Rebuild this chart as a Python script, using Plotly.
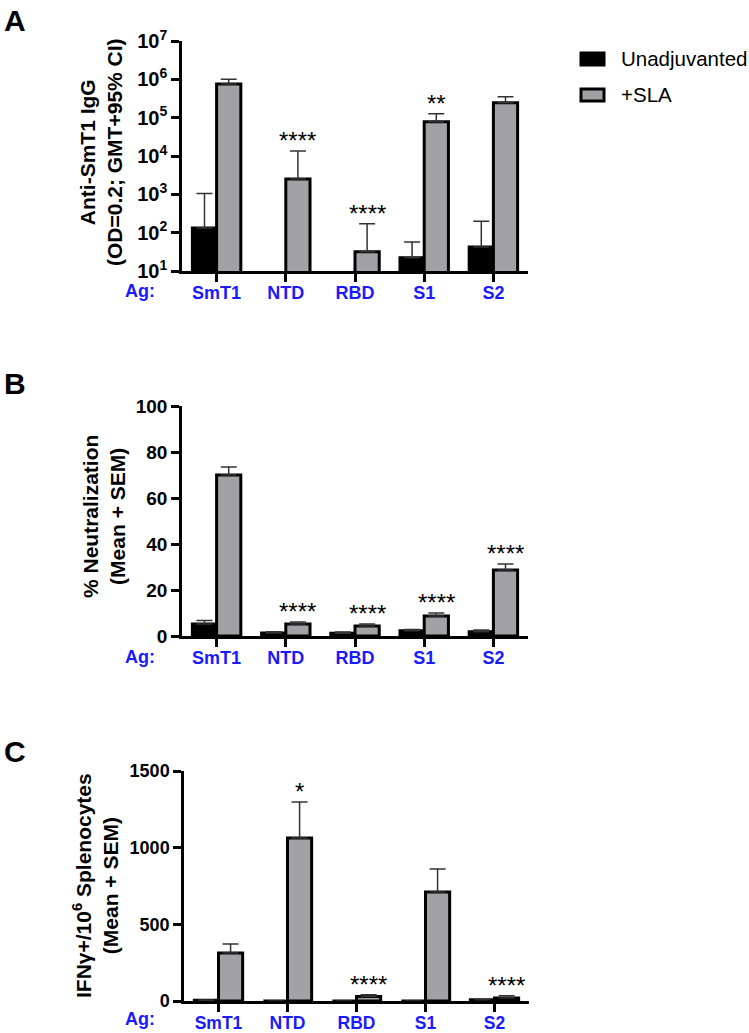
import math
import plotly.graph_objects as go

categories = ["SmT1", "NTD", "RBD", "S1", "S2"]

# Panel A: Anti-SmT1 IgG (GMT and upper 95% CI)
a_unadj = [132, None, None, 22, 42]
a_unadj_hi = [1050, None, None, 57, 200]
a_sla = [7.6e5, 2500, 32, 7.8e4, 2.45e5]
a_sla_hi = [1.0e6, 1.35e4, 170, 1.27e5, 3.5e5]
a_stars = ["", "****", "****", "**", ""]

# Panel B: % Neutralization (mean + SEM)
b_unadj = [5.2, 1.3, 1.2, 2.3, 1.8]
b_unadj_err = [1.5, 0.5, 0.5, 0.5, 0.8]
b_sla = [70, 5.2, 4.3, 8.7, 28.7]
b_sla_err = [3.5, 0.9, 0.9, 1.3, 2.6]
b_stars = ["", "****", "****", "****", "****"]

# Panel C: IFNg+/10^6 splenocytes (mean + SEM)
c_unadj = [5, 0, 0, 0, 8]
c_unadj_err = [2, 0, 0, 0, 2]
c_sla = [313, 1063, 30, 711, 20]
c_sla_err = [59, 235, 10, 150, 15]
c_stars = ["", "*", "****", "", "****"]

y_ticks_a = [1e1, 1e2, 1e3, 1e4, 1e5, 1e6, 1e7]
y_ticks_a_text = ["10<sup>%d</sup>" % i for i in range(1, 8)]
y_ticks_b = [0, 20, 40, 60, 80, 100]
y_ticks_c = [0, 500, 1000, 1500]

FONT = "Arial, Liberation Sans, sans-serif"
BLUE = "#1a1aff"
GRAY = "#a2a2a6"
W, H = 749, 1033

xs = list(range(len(categories)))
fig = go.Figure()

def px_x(p):
    return p / W

def px_y(p):
    return 1 - p / H

panels = [
    # (xaxis, yaxis, x0px, x1px, ytop_px, ybot_px, ytickfont, xtickfont)
    ("x", "y", 182, 528, 41, 271, 20, 18),
    ("x2", "y2", 182, 528, 406, 636, 19, 18),
    ("x3", "y3", 184, 529, 771, 1001, 18, 17.5),
]

def add_pair(unadj, unadj_err, sla, sla_err, xa, ya):
    fig.add_trace(go.Bar(
        x=xs, y=unadj, name="Unadjuvanted", xaxis=xa, yaxis=ya,
        marker=dict(color="black", line=dict(color="black", width=3)),
        error_y=dict(type="data", array=unadj_err, symmetric=False,
                     arrayminus=[0] * len(xs), color="#333333", thickness=1.5, width=8),
        showlegend=False, offsetgroup="u"))
    fig.add_trace(go.Bar(
        x=xs, y=sla, name="+SLA", xaxis=xa, yaxis=ya,
        marker=dict(color=GRAY, line=dict(color="black", width=3)),
        error_y=dict(type="data", array=sla_err, symmetric=False,
                     arrayminus=[0] * len(xs), color="#333333", thickness=1.5, width=8),
        showlegend=False, offsetgroup="s"))

a_unadj_err = [None if v is None else h - v for v, h in zip(a_unadj, a_unadj_hi)]
a_sla_err = [h - v for v, h in zip(a_sla, a_sla_hi)]
add_pair(a_unadj, a_unadj_err, a_sla, a_sla_err, "x", "y")
add_pair(b_unadj, b_unadj_err, b_sla, b_sla_err, "x2", "y2")
add_pair(c_unadj, c_unadj_err, c_sla, c_sla_err, "x3", "y3")

axis_common = dict(showline=True, linecolor="black", linewidth=2.5, ticks="outside",
                   ticklen=8, tickwidth=2.5, tickcolor="black", showgrid=False,
                   zeroline=False, automargin=False)

layout = dict(
    width=W, height=H, margin=dict(l=0, r=0, t=0, b=0, pad=0, autoexpand=False),
    paper_bgcolor="white", plot_bgcolor="white",
    barmode="group", bargap=0.3, bargroupgap=0,
    font=dict(family=FONT, color="black"),
    showlegend=False,
)
for i, (xa, ya, x0, x1, yt, yb, yfs, xfs) in enumerate(panels):
    xk = "xaxis" if xa == "x" else "xaxis" + xa[1:]
    yk = "yaxis" if ya == "y" else "yaxis" + ya[1:]
    layout[xk] = dict(axis_common, domain=[px_x(x0), px_x(x1)], range=[-0.5, 4.5],
                      tickvals=xs, ticktext=categories, anchor=ya, ticklabelstandoff=-4,
                      tickfont=dict(size=xfs, color=BLUE, family=FONT, weight="bold"))
    ydict = dict(axis_common, domain=[px_y(yb), px_y(yt)], anchor=xa,
                 tickfont=dict(size=yfs, color="black", family=FONT, weight="bold"))
    if i == 0:
        ydict.update(type="log", range=[1, 7], tickvals=y_ticks_a, ticktext=y_ticks_a_text)
    elif i == 1:
        ydict.update(range=[0, 100], tickvals=y_ticks_b)
    else:
        ydict.update(range=[0, 1500], tickvals=y_ticks_c)
    layout[yk] = ydict
fig.update_layout(**layout)

ann = []
shapes = []
# panel letters
for letter, ypx in [("A", 20), ("B", 384), ("C", 751)]:
    ann.append(dict(text="<b>%s</b>" % letter, x=px_x(2), y=px_y(ypx), xref="paper", yref="paper",
                    xanchor="left", yanchor="middle", showarrow=False,
                    font=dict(size=30, family=FONT, color="black")))
# Ag: labels
for ypx in [291, 657, 1019]:
    ann.append(dict(text="<b>Ag:</b>", x=px_x(140), y=px_y(ypx), xref="paper", yref="paper",
                    xanchor="center", yanchor="middle", showarrow=False,
                    font=dict(size=18, family=FONT, color=BLUE)))
# y-axis titles
titles = [
    ("Anti-SmT1 IgG<br>(OD=0.2; GMT+95% CI)", 101, 152),
    ("% Neutralization<br>(Mean + SEM)", 104, 517),
    ("IFN\u03b3+/10<sup>6</sup> Splenocytes<br>(Mean + SEM)", 95, 886),
]
for t, xpx, ypx in titles:
    ann.append(dict(text="<b>%s</b>" % t, x=px_x(xpx), y=px_y(ypx), xref="paper", yref="paper",
                    xanchor="center", yanchor="middle", showarrow=False, textangle=-90,
                    font=dict(size=21, family=FONT, color="black")))
# legend (drawn manually)
legend_items = [("Unadjuvanted", "black", 59), ("+SLA", GRAY, 95)]
for name, col, ypx in legend_items:
    shapes.append(dict(type="rect", xref="paper", yref="paper",
                       x0=px_x(581), x1=px_x(604), y0=px_y(ypx - 6), y1=px_y(ypx + 6),
                       fillcolor=col, line=dict(color="black", width=3)))
    ann.append(dict(text=name, x=px_x(619), y=px_y(ypx), xref="paper", yref="paper",
                    xanchor="left", yanchor="middle", showarrow=False,
                    font=dict(size=20.5, family=FONT, color="black")))
# significance stars above +SLA bars
star_sets = [
    (a_stars, a_sla_hi, "x", "y", True),
    (b_stars, [v + e for v, e in zip(b_sla, b_sla_err)], "x2", "y2", False),
    (c_stars, [v + e for v, e in zip(c_sla, c_sla_err)], "x3", "y3", False),
]
for stars, tops, xa, ya, is_log in star_sets:
    for i, s in enumerate(stars):
        if not s:
            continue
        yv = tops[i]
        ann.append(dict(text=s, x=xs[i] + 0.175, y=(math.log10(yv) if is_log else yv),
                        xref=xa, yref=ya, xanchor="center", yanchor="bottom", yshift=-5,
                        showarrow=False, font=dict(size=24, family=FONT, color="black")))
fig.update_layout(annotations=ann, shapes=shapes)

fig.write_html("out.html", config={"displayModeBar": False},
               post_script="document.body.style.margin='0';document.body.style.overflow='hidden';")
